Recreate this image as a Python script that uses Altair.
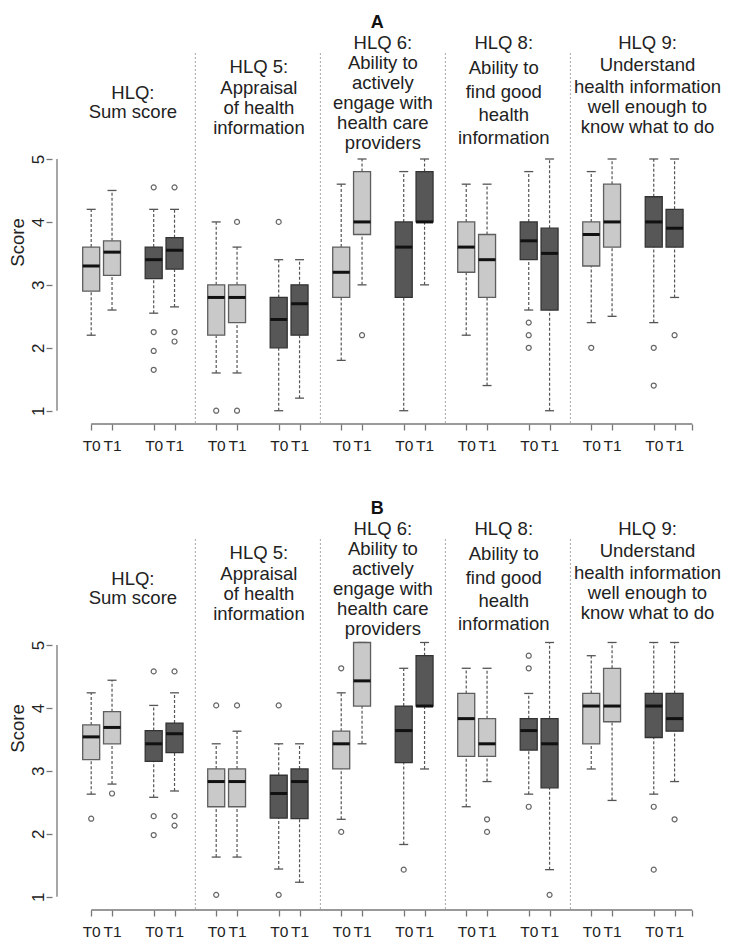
import altair as alt
import pandas as pd

# ---------------- data ----------------
POSITIONS = [1, 2, 4, 5, 7, 8, 10, 11, 13, 14, 16, 17, 19, 20, 22, 23, 25, 26, 28, 29]
SHADES = ["light", "light", "dark", "dark"] * 5
TIMES = ["T0", "T1", "T0", "T1"] * 5
TICK_VALUES = POSITIONS + [29.85]

A_LOW = [2.2, 2.6, 2.55, 2.65, 1.6, 1.6, 1.0, 1.2, 1.8, 3.0, 1.0, 3.0, 2.2, 1.4, 2.6, 1.0, 2.4, 2.5, 2.4, 2.8]
A_Q1 = [2.9, 3.15, 3.1, 3.25, 2.2, 2.4, 2.0, 2.2, 2.8, 3.8, 2.8, 4.0, 3.2, 2.8, 3.4, 2.6, 3.3, 3.6, 3.6, 3.6]
A_MED = [3.3, 3.52, 3.4, 3.55, 2.8, 2.8, 2.45, 2.7, 3.2, 4.0, 3.6, 4.0, 3.6, 3.4, 3.7, 3.5, 3.8, 4.0, 4.0, 3.9]
A_Q3 = [3.6, 3.7, 3.6, 3.75, 3.0, 3.0, 2.8, 3.0, 3.6, 4.8, 4.0, 4.8, 4.0, 3.8, 4.0, 3.9, 4.0, 4.6, 4.4, 4.2]
A_HIGH = [4.2, 4.5, 4.2, 4.2, 4.0, 3.6, 3.4, 3.4, 4.6, 5.0, 4.8, 5.0, 4.6, 4.6, 4.8, 5.0, 4.8, 5.0, 5.0, 5.0]
A_OUT_POS = [4, 4, 4, 4, 5, 5, 5, 7, 8, 8, 10, 14, 22, 22, 22, 25, 28, 28, 29]
A_OUT_VAL = [4.55, 2.25, 1.95, 1.65, 4.55, 2.25, 2.1, 1.0, 4.0, 1.0, 4.0, 2.2, 2.4, 2.2, 2.0, 2.0, 2.0, 1.4, 2.2]

B_LOW = [2.63, 2.79, 2.58, 2.68, 1.63, 1.63, 1.44, 1.23, 2.23, 3.43, 1.83, 3.03, 2.43, 2.83, 2.63, 1.43, 3.03, 2.53, 2.63, 2.83]
B_Q1 = [3.18, 3.43, 3.15, 3.29, 2.43, 2.43, 2.25, 2.24, 3.03, 4.03, 3.13, 4.03, 3.23, 3.23, 3.33, 2.73, 3.43, 3.78, 3.53, 3.63]
B_MED = [3.54, 3.69, 3.43, 3.59, 2.83, 2.83, 2.64, 2.83, 3.43, 4.43, 3.64, 4.03, 3.83, 3.43, 3.64, 3.43, 4.03, 4.03, 4.03, 3.83]
B_Q3 = [3.73, 3.94, 3.64, 3.76, 3.03, 3.03, 2.93, 3.03, 3.63, 5.04, 4.03, 4.83, 4.23, 3.83, 3.83, 3.83, 4.23, 4.63, 4.23, 4.23]
B_HIGH = [4.24, 4.44, 4.04, 4.24, 3.43, 3.63, 3.43, 3.43, 4.24, 5.04, 4.63, 5.04, 4.63, 4.63, 4.23, 5.04, 4.83, 5.04, 5.04, 5.04]
B_OUT_POS = [1, 2, 4, 4, 4, 5, 5, 5, 7, 7, 8, 10, 10, 13, 13, 16, 20, 20, 22, 22, 22, 23, 28, 28, 29]
B_OUT_VAL = [2.24, 2.64, 4.58, 2.28, 1.98, 4.58, 2.28, 2.13, 4.04, 1.03, 4.04, 4.04, 1.03, 4.63, 2.03,
             1.43, 2.23, 2.03, 4.83, 4.63, 2.43, 1.03, 2.43, 1.43, 2.23]

GROUP_TITLES = [
    ["HLQ:", "Sum score"],
    ["HLQ 5:", "Appraisal", "of health", "information"],
    ["HLQ 6:", "Ability to", "actively", "engage with", "health care", "providers"],
    ["HLQ 8:", "Ability to", "find good", "health", "information"],
    ["HLQ 9:", "Understand", "health information", "well enough to", "know what to do"],
]
SEPARATORS = [6, 12, 18, 24]

# ---------------- layout ----------------
GROUP_CENTERS = [3, 9.05, 15, 20.8, 27.7]
TITLE_ROWS_PX = [
    [93, 112],
    [67, 88, 108, 128],
    [43, 63, 83, 103, 123, 143],
    [43, 68, 92, 115, 138],
    [43, 65, 87, 107, 127],
]
LETTER_X, LETTER_ROW_PX = 14.73, 23
TOP5_PX, UNIT_PX = 159, 62.93          # pixel of score 5 (panel A) and px per score unit
PLOT_TOP_PX, AXIS_PX = 8, 424
W, H = 673, 416
XMIN, XMAX = -0.641, 31.18
YMAX = 5 + (TOP5_PX - PLOT_TOP_PX) / UNIT_PX
YMIN = 5 - (AXIS_PX - TOP5_PX) / UNIT_PX
SEP_TOP = 5 + (TOP5_PX - 53) / UNIT_PX

FONT = "Liberation Sans"
TITLE_SIZE = 18.5
LABEL_SIZE = 15.5
LIGHT, DARK = "#c9c9c9", "#575757"
XS = alt.Scale(domain=[XMIN, XMAX], nice=False, zero=False)
YS = alt.Scale(domain=[YMIN, YMAX], nice=False, zero=False)

X_AXIS = alt.Axis(
    values=TICK_VALUES,
    labelExpr="datum.value > 29.5 ? '' : (datum.value % 3 == 1 ? 'T0' : 'T1')",
    domain=False, grid=False, ticks=True, labels=True,
    tickSize=6, tickColor="#777777", tickWidth=1.3,
    labelFontSize=LABEL_SIZE, labelPadding=8, labelColor="#222222", labelFont=FONT,
    labelFlush=False, labelOverlap=False, title=None,
)
Y_AXIS = alt.Axis(
    values=[1, 2, 3, 4, 5], format="d", title="Score",
    domain=False, grid=False, ticks=True, labels=True,
    tickSize=6, tickColor="#777777", tickWidth=1.3,
    labelAngle=-90, labelAlign="center", labelBaseline="middle", labelPadding=8,
    labelFontSize=17, labelColor="#222222", labelFont=FONT,
    titleFont=FONT, titleFontSize=TITLE_SIZE, titleFontWeight="normal", titleColor="#222222",
    titleX=-35, titleY=234, titleBaseline="middle", titleAngle=-90,
)


def X(field):
    return alt.X(field, type="quantitative", scale=XS, axis=X_AXIS)


def Y(field):
    return alt.Y(field, type="quantitative", scale=YS, axis=Y_AXIS)


def panel(letter, low, q1, med, q3, high, out_pos, out_val):
    boxes = pd.DataFrame(dict(pos=POSITIONS, shade=SHADES, time=TIMES,
                              low=low, q1=q1, med=med, q3=q3, high=high))
    outl = pd.DataFrame(dict(pos=out_pos, val=out_val))
    rows = []
    for xc, lines, rpx in zip(GROUP_CENTERS, GROUP_TITLES, TITLE_ROWS_PX):
        for txt, py in zip(lines, rpx):
            rows.append(dict(x=xc, y=5 + (TOP5_PX - py) / UNIT_PX, t=txt))
    titles = pd.DataFrame(rows)
    letter_df = pd.DataFrame(dict(x=[LETTER_X], y=[5 + (TOP5_PX - LETTER_ROW_PX) / UNIT_PX], t=[letter]))
    seps = pd.DataFrame(dict(x=SEPARATORS, top=[SEP_TOP] * 4, bottom=[YMIN] * 4))
    xline = pd.DataFrame(dict(x=[TICK_VALUES[0]], x2=[TICK_VALUES[-1]], y=[YMIN]))
    yline = pd.DataFrame(dict(x=[XMIN], y=[1], y2=[5]))

    b = alt.Chart(boxes)

    sep_layer = alt.Chart(seps).mark_rule(color="#a8a8a8", strokeDash=[2, 2], strokeWidth=1).encode(
        x=X("x"), y=Y("top"), y2="bottom:Q")
    xline_layer = alt.Chart(xline).mark_rule(color="#777777", strokeWidth=1.3).encode(
        x=X("x"), x2="x2:Q", y=Y("y"))
    yline_layer = alt.Chart(yline).mark_rule(color="#777777", strokeWidth=1.3).encode(
        x=X("x"), y=Y("y"), y2="y2:Q")

    wl = b.mark_rule(color="#555555", strokeDash=[3, 2], strokeWidth=1.2).encode(
        x=X("pos"), y=Y("low"), y2="q1:Q")
    wh = b.mark_rule(color="#555555", strokeDash=[3, 2], strokeWidth=1.2).encode(
        x=X("pos"), y=Y("q3"), y2="high:Q")
    cap_lo = b.mark_tick(orient="horizontal", size=9, thickness=1.3, color="#555555", opacity=1).encode(
        x=X("pos"), y=Y("low"))
    cap_hi = b.mark_tick(orient="horizontal", size=9, thickness=1.3, color="#555555", opacity=1).encode(
        x=X("pos"), y=Y("high"))
    box = b.mark_bar(size=17, strokeWidth=1.3).encode(
        x=X("pos"), y=Y("q1"), y2="q3:Q",
        fill=alt.Fill("shade:N", scale=alt.Scale(domain=["light", "dark"], range=[LIGHT, DARK]), legend=None),
        stroke=alt.Stroke("shade:N", scale=alt.Scale(domain=["light", "dark"], range=["#5e5e5e", "#333333"]), legend=None),
    )
    median = b.mark_tick(orient="horizontal", size=17, thickness=3, color="#111111", opacity=1).encode(
        x=X("pos"), y=Y("med"))
    pts = alt.Chart(outl).mark_point(shape="circle", filled=False, size=25, strokeWidth=1.2,
                                     color="#666666", opacity=1).encode(x=X("pos"), y=Y("val"))
    ttl = alt.Chart(titles).mark_text(font=FONT, fontSize=TITLE_SIZE, color="#222222",
                                      align="center", baseline="middle").encode(
        x=X("x"), y=Y("y"), text="t:N")
    let = alt.Chart(letter_df).mark_text(font=FONT, fontSize=18, fontWeight="bold", color="#111111",
                                         align="center", baseline="middle").encode(
        x=X("x"), y=Y("y"), text="t:N")

    return alt.layer(sep_layer, xline_layer, yline_layer, wl, wh, cap_lo, cap_hi, box, median, pts,
                     ttl, let).properties(width=W, height=H)


pA = panel("A", A_LOW, A_Q1, A_MED, A_Q3, A_HIGH, A_OUT_POS, A_OUT_VAL)
pB = panel("B", B_LOW, B_Q1, B_MED, B_Q3, B_HIGH, B_OUT_POS, B_OUT_VAL)

chart = alt.vconcat(pA, pB, spacing=40).properties(padding=0, background="white").configure_view(stroke=None)

chart.save("out.html", embed_options={"renderer": "svg", "actions": False})
